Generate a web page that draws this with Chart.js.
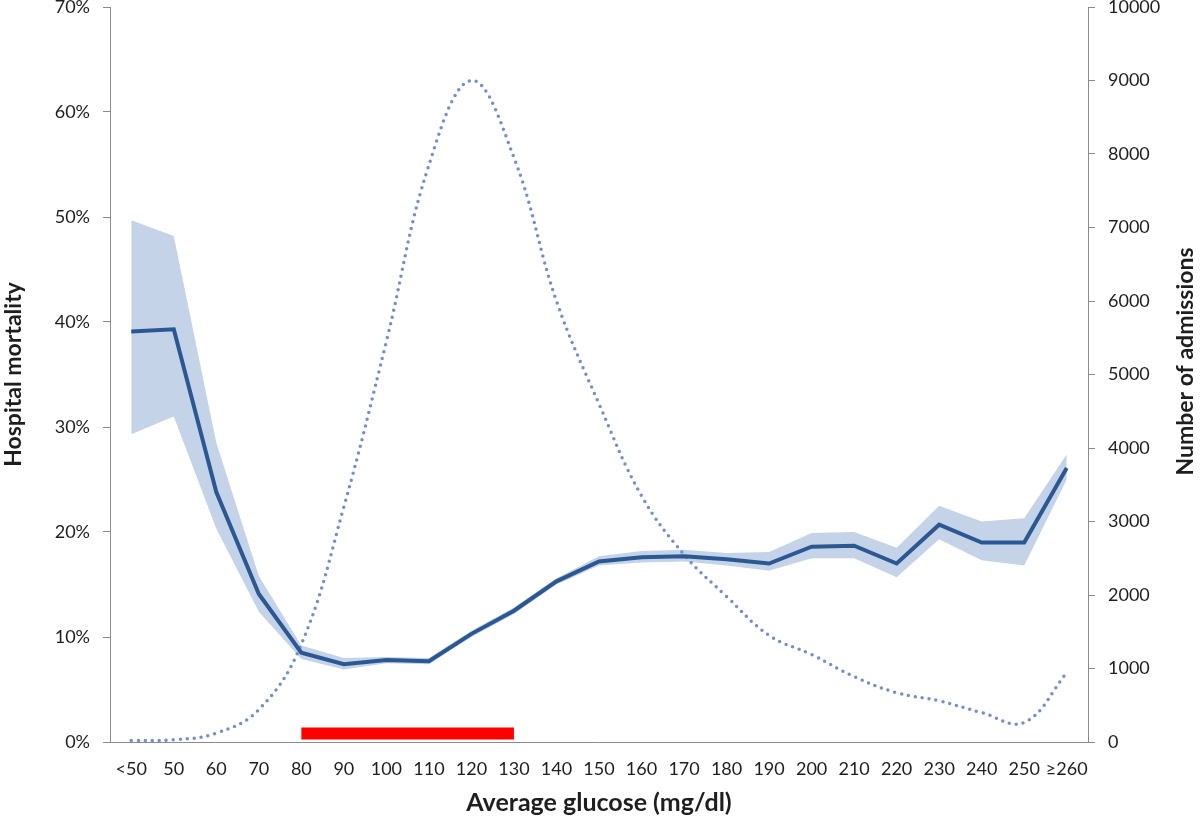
<!DOCTYPE html>
<html>
<head>
<meta charset="utf-8">
<script src="https://cdn.jsdelivr.net/npm/chart.js@4/dist/chart.umd.min.js"></script>
<style>
  html, body { margin: 0; padding: 0; background: #ffffff; }
  #wrap { width: 1200px; height: 823px; }
</style>
</head>
<body>
<div id="wrap"><canvas id="c" width="1200" height="823"></canvas></div>
<script>
// ---- data ----
const categories = ['<50','50','60','70','80','90','100','110','120','130','140','150','160','170','180','190','200','210','220','230','240','250','≥260'];
// hospital mortality (fraction)
const mortality = [0.391,0.393,0.238,0.141,0.085,0.074,0.078,0.077,0.103,0.125,0.153,0.172,0.176,0.177,0.174,0.170,0.186,0.187,0.170,0.207,0.190,0.190,0.261];
const mortalityUpper = [0.497,0.482,0.285,0.158,0.092,0.080,0.081,0.080,0.106,0.128,0.156,0.177,0.182,0.183,0.180,0.181,0.199,0.200,0.185,0.225,0.210,0.213,0.274];
const mortalityLower = [0.293,0.310,0.203,0.124,0.079,0.069,0.075,0.074,0.100,0.122,0.150,0.168,0.171,0.172,0.168,0.163,0.175,0.175,0.157,0.193,0.173,0.168,0.250];
// number of admissions
const admissions = [20,30,120,440,1330,3200,5450,7850,9000,7950,6000,4600,3350,2550,1980,1450,1190,890,670,560,400,265,940];
// target glucose range marker (80–130 mg/dl)
const targetRange = [null,null,null,null,0.008,0.008,0.008,0.008,0.008,0.008,null,null,null,null,null,null,null,null,null,null,null,null,null];
const pctTicks = [0,0.1,0.2,0.3,0.4,0.5,0.6,0.7];

const FONT = 'Lato, "Open Sans", "Liberation Sans", sans-serif';
const TXT = '#1e1e1e';
const AXIS = '#8c8c8c';

const rightTitle = {
  id: 'rightTitle',
  afterDraw(chart) {
    const s = chart.scales.y2;
    const ctx = chart.ctx;
    ctx.save();
    ctx.translate(s.right - 14, (chart.chartArea.top + chart.chartArea.bottom) / 2 - 13);
    ctx.rotate(-Math.PI / 2);
    ctx.font = 'bold 23px ' + FONT;
    ctx.fillStyle = TXT;
    ctx.textAlign = 'center';
    ctx.textBaseline = 'middle';
    ctx.fillText('Number of admissions', 0, 0);
    ctx.restore();
  }
};

new Chart(document.getElementById('c'), {
  type: 'line',
  data: {
    labels: categories,
    datasets: [
      {
        label: 'Mortality',
        data: mortality,
        yAxisID: 'y',
        borderColor: '#2b5793',
        borderWidth: 4,
        pointRadius: 0,
        tension: 0,
        fill: false,
        order: 0
      },
      {
        label: 'Target range',
        data: targetRange,
        yAxisID: 'y',
        borderColor: '#ff0000',
        borderWidth: 12,
        borderCapStyle: 'butt',
        pointRadius: 0,
        spanGaps: false,
        fill: false,
        order: 1
      },
      {
        label: 'Admissions',
        data: admissions,
        yAxisID: 'y2',
        borderColor: '#7690c2',
        borderWidth: 3.5,
        borderDash: [0, 7],
        borderCapStyle: 'round',
        pointRadius: 0,
        tension: 0.4,
        cubicInterpolationMode: 'default',
        fill: false,
        order: 2
      },
      {
        label: 'Upper',
        data: mortalityUpper,
        yAxisID: 'y',
        borderWidth: 0,
        borderColor: 'rgba(0,0,0,0)',
        backgroundColor: '#c4d3e8',
        pointRadius: 0,
        tension: 0,
        fill: '+1',
        order: 3
      },
      {
        label: 'Lower',
        data: mortalityLower,
        yAxisID: 'y',
        borderWidth: 0,
        borderColor: 'rgba(0,0,0,0)',
        pointRadius: 0,
        tension: 0,
        fill: false,
        order: 4
      }
    ]
  },
  options: {
    responsive: false,
    animation: false,
    layout: { padding: { top: 7, left: 0, right: 0, bottom: 0 } },
    plugins: { legend: { display: false }, tooltip: { enabled: false } },
    scales: {
      x: {
        type: 'category',
        offset: true,
        grid: { display: false, drawTicks: false },
        border: { display: true, color: AXIS, width: 1 },
        ticks: { color: TXT, font: { family: FONT, size: 18 }, padding: 16, maxRotation: 0, autoSkip: false },
        title: { display: true, text: 'Average glucose (mg/dl)', color: TXT, font: { family: FONT, size: 25, weight: 'bold' }, padding: { top: 0, bottom: 5 } },
        afterFit(s) { s.height = 81; s.paddingLeft = 0; s.paddingRight = 0; }
      },
      y: {
        position: 'left',
        min: 0, max: 0.7,
        afterBuildTicks(s) { s.ticks = pctTicks.map(v => ({ value: v })); },
        grid: { drawOnChartArea: false, drawTicks: true, tickLength: 7, color: AXIS },
        border: { display: true, color: AXIS, width: 1 },
        ticks: { color: TXT, font: { family: FONT, size: 18 }, padding: 13, callback: v => Math.round(v * 100) + '%' },
        title: { display: true, text: 'Hospital mortality', color: TXT, font: { family: FONT, size: 23, weight: 'bold' }, padding: { top: 0, bottom: 0 } },
        afterFit(s) { s.width = 110; s.paddingTop = 0; s.paddingBottom = 0; }
      },
      y2: {
        position: 'right',
        min: 0, max: 10000,
        ticks: { stepSize: 1000, color: TXT, font: { family: FONT, size: 18 }, padding: 13, callback: v => String(v) },
        grid: { drawOnChartArea: false, drawTicks: true, tickLength: 7, color: AXIS },
        border: { display: true, color: AXIS, width: 1 },
        afterFit(s) { s.width = 112; s.paddingTop = 0; s.paddingBottom = 0; }
      }
    }
  },
  plugins: [rightTitle]
});
</script>
</body>
</html>
